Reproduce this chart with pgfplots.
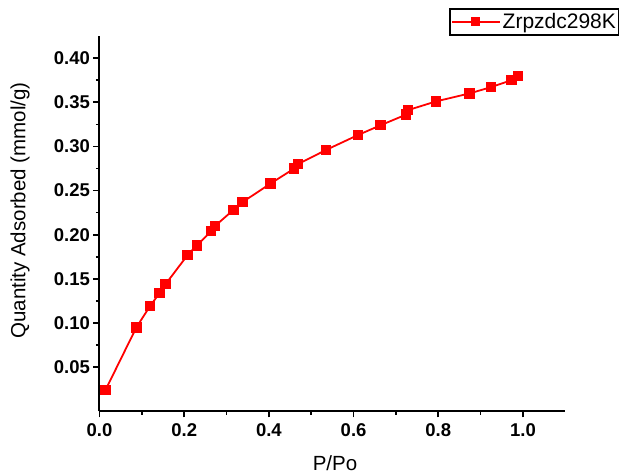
\documentclass[border=0pt]{standalone}
\usepackage{fontspec}
\setmainfont{Liberation Sans}
\usepackage{pgfplots}
\pgfplotsset{compat=1.18}
\definecolor{origred}{RGB}{255,0,0}

\begin{document}
\begin{tikzpicture}[x=1pt,y=1pt]
\useasboundingbox (0,0) rectangle (619,476);
\begin{axis}[
  at={(99.5pt,64.6pt)}, anchor=origin,
  scale only axis,
  width=465.8pt, height=375.4pt,
  xmin=0, xmax=1.1, ymin=0, ymax=0.425,
  axis x line*=bottom, axis y line*=left,
  axis line style={line width=2pt, -},
  xtick={0,0.2,0.4,0.6,0.8,1.0},
  ytick={0.05,0.10,0.15,0.20,0.25,0.30,0.35,0.40},
  minor x tick num=1, minor y tick num=1,
  tick align=outside,
  major tick length=6pt, minor tick length=3.5pt,
  tick style={line width=1.6pt, black},
  /pgf/number format/assume math mode=true,
  tick label style={font=\fontsize{18.5}{22}\selectfont\bfseries},
  xticklabel style={yshift=-3pt, /pgf/number format/.cd, fixed, fixed zerofill, precision=1},
  yticklabel style={/pgf/number format/.cd, fixed, fixed zerofill, precision=2},
  xlabel={P/Po}, ylabel={Quantity Adsorbed (mmol/g)},
  label style={font=\fontsize{20.5}{24}\selectfont},
  xlabel style={at={(rel axis cs:0.5056,-0.139)}, anchor=center},
  ylabel style={at={(rel axis cs:-0.1707,0.535)}, anchor=center},
  legend style={at={(rel axis cs:0.7503,1.0746)}, anchor=north west,
    draw=black, line width=1.8pt, font=\fontsize{21}{24}\selectfont,
    inner xsep=1pt, inner ysep=2.5pt, row sep=0pt},
  legend image code/.code={
    \draw[line width=1.8pt, origred] (0pt,0pt) -- (48pt,0pt);
    \fill[origred] (20.5pt,-3.5pt) rectangle (27.5pt,3.5pt);
  },
]
\addplot[color=origred, line width=1.8pt, mark=square*, mark size=4.3pt,
  mark options={solid, fill=origred}] coordinates {
  (0.014,0.024) (0.087,0.095) (0.119,0.119) (0.142,0.134) (0.156,0.144)
  (0.208,0.177) (0.230,0.188) (0.264,0.204) (0.273,0.210) (0.316,0.228)
  (0.338,0.237) (0.404,0.258) (0.460,0.275) (0.469,0.280) (0.535,0.296)
  (0.611,0.313) (0.664,0.324) (0.724,0.336) (0.728,0.341) (0.795,0.351)
  (0.874,0.360) (0.924,0.367) (0.973,0.375) (0.989,0.380)
};
\addlegendentry{Zrpzdc298K}
\end{axis}
\end{tikzpicture}
\end{document}
